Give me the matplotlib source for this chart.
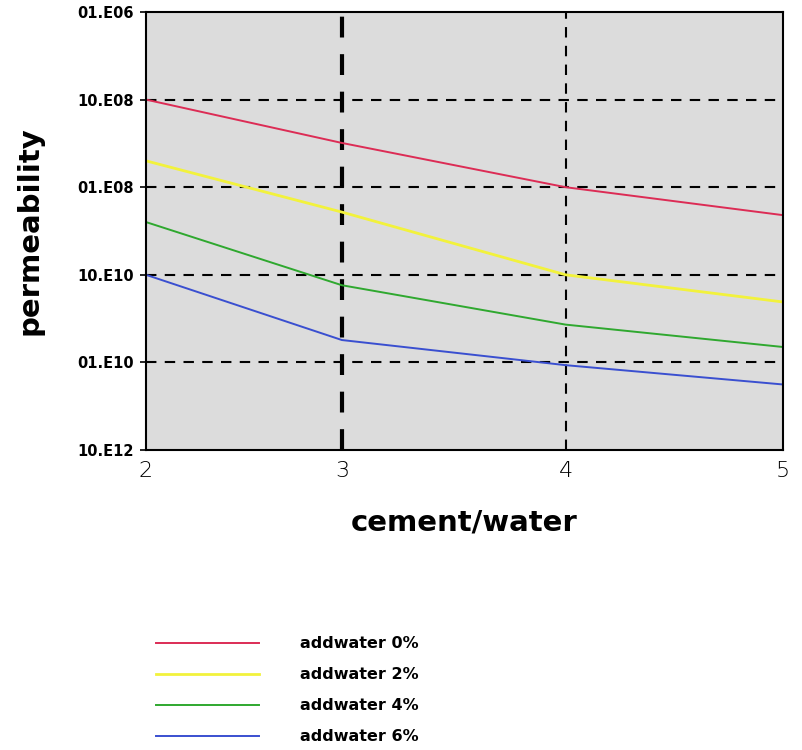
import matplotlib.pyplot as plt
import numpy as np

ratio = [2, 3, 4, 5]
perm_0 = [1.0e-7, 3.2e-8, 1.0e-8, 4.8e-9]
perm_2 = [2.0e-8, 5.2e-9, 1.0e-9, 4.9e-10]
perm_4 = [4.0e-9, 7.6e-10, 2.7e-10, 1.5e-10]
perm_6 = [1.0e-9, 1.8e-10, 9.3e-11, 5.6e-11]
labels = ['addwater 0%', 'addwater 2%', 'addwater 4%', 'addwater 6%']
colors = ['#dc2c55', '#f2f23c', '#2fa82f', '#3a4fd0']
widths = [1.4, 2.0, 1.4, 1.4]

ytick_vals = [1e-6, 1e-7, 1e-8, 1e-9, 1e-10, 1e-11]
ytick_text = ['01.E06', '10.E08', '01.E08', '10.E10', '01.E10', '10.E12']

# the original x axis is not quite evenly spaced
x_pos = [0.0, 0.3077, 0.659, 1.0]
fwd = lambda v: np.interp(v, ratio, x_pos)
inv = lambda v: np.interp(v, x_pos, ratio)

fig = plt.figure(figsize=(8.02, 7.5), dpi=100)
ax = fig.add_axes([0.182, 0.40, 0.794, 0.584])
ax.set_facecolor('#dcdcdc')

for s, lab, c, w in zip([perm_0, perm_2, perm_4, perm_6], labels, colors, widths):
    ax.plot(ratio, s, color=c, lw=w, label=lab)

ax.set_xscale('function', functions=(fwd, inv))
ax.set_yscale('log')
ax.set_xlim(2, 5)
ax.set_ylim(1e-11, 1e-6)
ax.set_yticks(ytick_vals)
ax.set_yticklabels(ytick_text, fontsize=10.5, fontweight='bold')
ax.minorticks_off()
ax.set_xticks(ratio)
ax.set_xticklabels([str(r) for r in ratio], fontsize=16, fontweight='light')
ax.tick_params(axis='x', length=0, pad=8)
ax.tick_params(axis='y', length=4, width=1.2, pad=5)

for yv in ytick_vals[1:-1]:
    ax.axhline(yv, color='black', ls=(0, (5, 4)), lw=1.5, zorder=1)
ax.axvline(3, color='black', ls=(0, (5, 4)), lw=3, zorder=1)
ax.axvline(4, color='black', ls=(0, (5, 4)), lw=1.5, zorder=1)

for sp in ax.spines.values():
    sp.set_linewidth(1.5)

ax.set_xlabel('cement/water', fontsize=21, fontweight='bold', labelpad=20)
ax.set_ylabel('permeability', fontsize=21, fontweight='bold', labelpad=24)

fig.legend(loc='upper left', bbox_to_anchor=(0.185, 0.162), frameon=False,
           prop={'size': 11.5, 'weight': 'bold'}, handlelength=6.4,
           handletextpad=2.6, labelspacing=1.0, borderpad=0)

plt.savefig('out.png', dpi=100)
